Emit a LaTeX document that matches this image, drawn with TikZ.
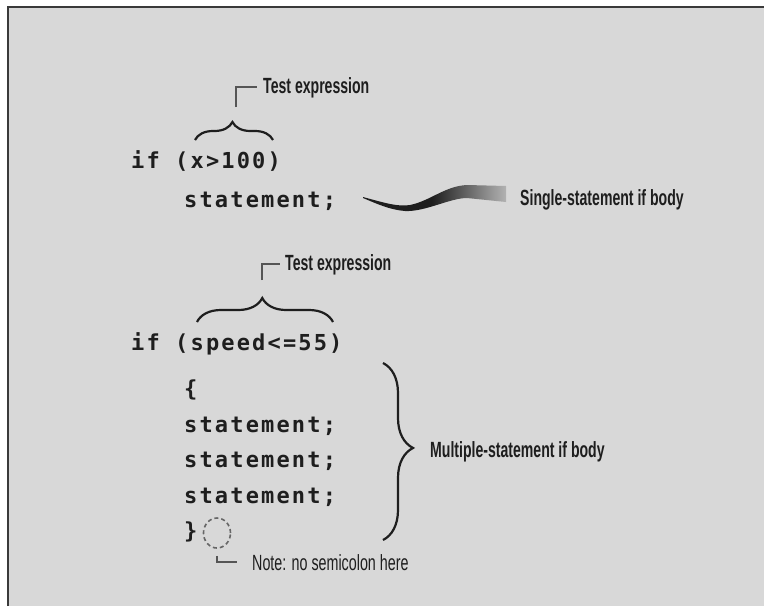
\documentclass[tikz,border=0pt]{standalone}
\usepackage{fontspec}
\usetikzlibrary{decorations.pathreplacing,shapes.geometric}
\newfontfamily\labfont[FakeStretch=0.64]{Liberation Sans}
\newfontfamily\notefont[FakeStretch=0.65]{Liberation Sans}
\newfontfamily\codefont[LetterSpace=9.8]{DejaVu Sans Mono}
\definecolor{bg}{HTML}{D8D8D8}
\definecolor{ink}{HTML}{1E1E1E}
\definecolor{framec}{HTML}{3A3A3A}
\definecolor{brk}{HTML}{555555}
\pgfdeclarehorizontalshading{swooshshade}{100bp}{color(0bp)=(ink); color(25bp)=(ink); color(49bp)=(ink); color(75bp)=(black!30); color(100bp)=(black!30)}
\begin{document}
\begin{tikzpicture}[x=1pt,y=-1pt,
  code/.style={anchor=base west,inner sep=0pt,font=\codefont\bfseries\fontsize{22}{26}\selectfont,text=ink},
  lab/.style={anchor=base west,inner sep=0pt,font=\labfont\bfseries\fontsize{22}{26}\selectfont,text=ink},
  notelab/.style={anchor=base west,inner sep=0pt,font=\notefont\fontsize{22}{26}\selectfont,text=ink},
  bracket/.style={draw=brk,line width=1.8pt},
  curly/.style={draw=ink,line width=2.2pt,decorate,decoration={brace,amplitude=#1,aspect=0.48}}]
\useasboundingbox (0,0) rectangle (764,606);
\fill[white] (0,0) rectangle (764,606);
\fill[bg] (7,7) rectangle (764,606);
\draw[framec,line width=2pt] (7.5,606) -- (7.5,6.5) -- (764,6.5);

% ---- single statement
\node[code] (c1) at (131,168) {if (x>100)};
\node[code] (c2) at (184,207) {statement;};
\node[lab] (t1) at (263,93) {Test expression};
\node[lab] (s1) at (520,205) {Single-statement if body};
\coordinate (b1l) at (195,140);
\coordinate (b1r) at (273,140);
\coordinate (b1t) at (236,107);
\draw[curly=18] (b1l) -- (b1r);
\draw[bracket] (b1t) |- ([xshift=-6pt]t1.west);
\shade[shading=swooshshade] (363,197) .. controls (385,203) and (398,207) .. (410,205)
  .. controls (430,201) and (445,186) .. (467,185) -- (506,186) -- (506,202) -- (467,198)
  .. controls (450,198) and (425,212) .. (405,211) .. controls (390,210) and (375,203) .. (363,198) -- cycle;

% ---- multiple statements
\node[code] (c3) at (131,350) {if (speed<=55)};
\node[code] (c4) at (184,396) {\{};
\node[code] (c5) at (184,432) {statement;};
\node[code] (c6) at (184,467) {statement;};
\node[code] (c7) at (184,503) {statement;};
\node[code] (c8) at (184,538) {\}};
\node[lab] (t2) at (285,270) {Test expression};
\node[lab] (m1) at (430,457) {Multiple-statement if body};
\node[notelab] (n1) at (252,570) {Note: no semicolon here};
\coordinate (b2l) at (197,322);
\coordinate (b2r) at (333,322);
\coordinate (b2t) at (262,280);
\draw[curly=24] (b2l) -- (b2r);
\draw[bracket] (b2t) |- ([xshift=-5pt]t2.west);
\coordinate (b3t) at (383,363);
\coordinate (b3b) at (383,540);
\draw[curly=30] (b3t) -- (b3b);
\node[draw=black!60,dash pattern=on 4pt off 3pt,line width=1.6pt,ellipse,minimum width=27pt,minimum height=30pt,inner sep=0pt] (circ) at (217,533) {};
\draw[bracket] ([yshift=-7pt]circ.south) |- ([xshift=-15pt]n1.west);
\end{tikzpicture}
\end{document}
